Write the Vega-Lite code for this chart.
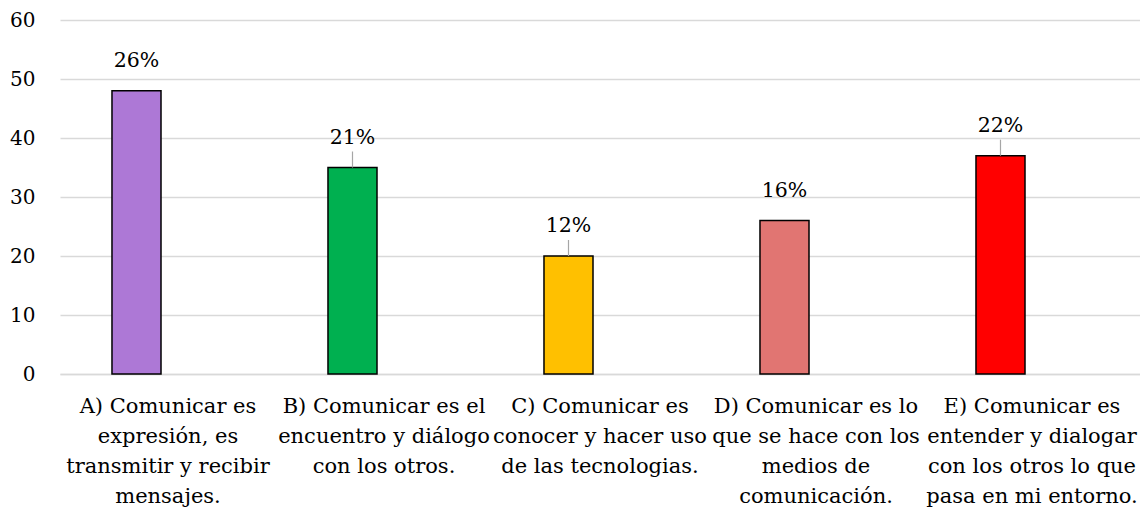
{
  "$schema": "https://vega.github.io/schema/vega-lite/v6.json",
  "width": 1080,
  "height": 354,
  "autosize": "none",
  "padding": {"left": 60, "top": 20, "right": 0, "bottom": 138},
  "background": "white",
  "config": {"view": {"stroke": null}, "font": "DejaVu Serif"},
  "data": {
    "values": [
      {"opcion": "A) Comunicar es|expresión, es|transmitir y recibir|mensajes.", "valor": 48, "pct": "26%", "serie": "s1", "guia": false},
      {"opcion": "B) Comunicar es el|encuentro y diálogo|con los otros.", "valor": 35, "pct": "21%", "serie": "s1", "guia": true},
      {"opcion": "C) Comunicar es|conocer y hacer uso|de las tecnologias.", "valor": 20, "pct": "12%", "serie": "s1", "guia": true},
      {"opcion": "D) Comunicar es lo|que se hace con los|medios de|comunicación.", "valor": 26, "pct": "16%", "serie": "s1", "guia": false},
      {"opcion": "E) Comunicar es|entender y dialogar|con los otros lo que|pasa en mi entorno.", "valor": 37, "pct": "22%", "serie": "s1", "guia": true}
    ]
  },
  "encoding": {
    "x": {
      "field": "opcion",
      "type": "nominal",
      "sort": null,
      "title": null,
      "scale": {"paddingInner": 0, "paddingOuter": 0},
      "axis": {
        "labelExpr": "split(datum.label, '|')",
        "labelAngle": 0,
        "labelFont": "DejaVu Serif",
        "labelFontSize": 21,
        "labelColor": "#000000",
        "labelLineHeight": 30,
        "labelLimit": 400,
        "labelOverlap": false,
        "labelPadding": 21,
        "labelBaseline": "top",
        "ticks": false,
        "domainColor": "#d9d9d9",
        "domainWidth": 1.5
      }
    },
    "xOffset": {
      "field": "serie",
      "type": "nominal",
      "scale": {"domain": ["s1", "s2"], "paddingInner": 0.222, "paddingOuter": 0.825}
    },
    "y": {
      "field": "valor",
      "type": "quantitative",
      "title": null,
      "scale": {"domain": [0, 60], "nice": false},
      "axis": {
        "values": [0, 10, 20, 30, 40, 50, 60],
        "domain": false,
        "ticks": false,
        "grid": true,
        "gridColor": "#d9d9d9",
        "gridWidth": 1.5,
        "labelFont": "DejaVu Serif",
        "labelFontSize": 20,
        "labelColor": "#000000",
        "labelPadding": 25
      }
    }
  },
  "layer": [
    {
      "mark": {"type": "bar", "stroke": "#000000", "strokeWidth": 1.5},
      "encoding": {
        "color": {
          "field": "opcion",
          "type": "nominal",
          "sort": null,
          "legend": null,
          "scale": {"range": ["#AD78D6", "#00B050", "#FFC000", "#E17572", "#FF0000"]}
        }
      }
    },
    {
      "transform": [{"filter": "datum.guia"}],
      "mark": {"type": "rule", "color": "#a6a6a6", "strokeWidth": 1.2, "y2Offset": -16},
      "encoding": {"y2": {"field": "valor"}}
    },
    {
      "mark": {"type": "text", "baseline": "middle", "dy": -30, "fontSize": 20.5, "font": "DejaVu Serif", "color": "#000000"},
      "encoding": {"text": {"field": "pct"}}
    }
  ]
}
